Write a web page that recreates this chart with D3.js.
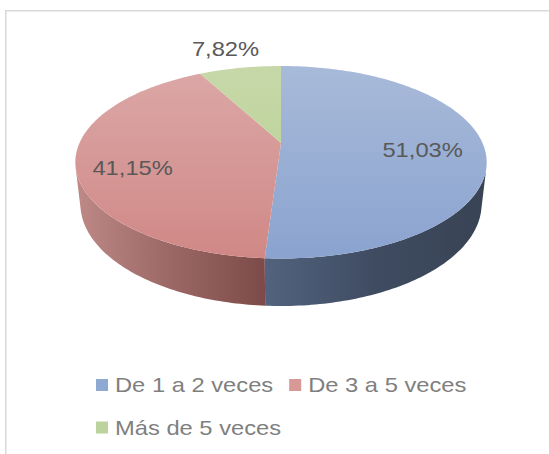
<!DOCTYPE html>
<html>
<head>
<meta charset="utf-8">
<script src="https://cdn.jsdelivr.net/npm/d3@7/dist/d3.min.js"></script>
<style>
  html, body { margin: 0; padding: 0; background: #fff; }
  svg { display: block; font-family: "Liberation Sans", Arial, sans-serif; }
</style>
</head>
<body>
<div id="chart"></div>
<script>
// data
var categories = ['De 1 a 2 veces', 'De 3 a 5 veces', 'Más de 5 veces'];
var values = [51.03, 41.15, 7.82];

// colours: top face (light, dark) and side wall (left, mid, right)
var topColors = [['#a8bad9', '#8aa3cf'], ['#dba8a7', '#d08886'], ['#c6d8a8', '#b6cf91']];
var wallColors = [['#52637f', '#3f4b61', '#384354'], ['#be8986', '#9b6865', '#7c4a48'], ['#9aae7c', '#839a64', '#6f8452']];
var legendColors = ['#8faad2', '#d79896', '#bcd39d'];

var width = 549, height = 454;

// 3D projection of the pie (fitted to the picture)
var cx = 281, cy = 143,
    R = 0.225, D = 1, f = 895.6,
    tilt = Math.asin(0.4586),
    depth = 0.0527,
    cosA = Math.cos(tilt), sinA = Math.sin(tilt);

function proj(phi, r, z) {
  var x = r * Math.sin(phi), y = r * Math.cos(phi);
  var v = z * cosA + y * sinA;
  var d = D + y * cosA - z * sinA;
  return [cx + f * x / d, cy - f * v / d];
}

var locale = d3.formatLocale({ decimal: ',', thousands: '.', grouping: [3], currency: ['', '€'] });
var fmt = locale.format('.2f');

var svg = d3.select('#chart').append('svg')
  .attr('width', width)
  .attr('height', height);

var defs = svg.append('defs');

// chart frame (only top and left edges are inside the picture)
svg.append('rect')
  .attr('x', 5.75).attr('y', 10.75)
  .attr('width', 700).attr('height', 600)
  .attr('fill', 'none')
  .attr('stroke', '#d9d9d9')
  .attr('stroke-width', 1.5);

var arcs = d3.pie().sort(null).value(function (d) { return d; })(values);

// visible part of the outer wall
var visLimit = Math.acos(-R / (D * cosA));
var visLo = visLimit, visHi = 2 * Math.PI - visLimit;

var line = d3.line();
var steps = 120;

function sample(a0, a1) {
  var n = Math.max(2, Math.ceil((a1 - a0) / (2 * Math.PI) * steps * 3));
  return d3.range(n + 1).map(function (i) { return a0 + (a1 - a0) * i / n; });
}

var walls = svg.append('g').attr('class', 'walls');
var tops = svg.append('g').attr('class', 'tops');

arcs.forEach(function (a, i) {
  var a0 = Math.max(a.startAngle, visLo), a1 = Math.min(a.endAngle, visHi);
  if (a0 < a1) {
    var angles = sample(a0, a1);
    var upper = angles.map(function (t) { return proj(t, R, 0); });
    var lower = angles.map(function (t) { return proj(t, R, -depth); }).reverse();
    var pts = upper.concat(lower);
    var xs = d3.extent(pts, function (p) { return p[0]; });
    var gid = 'wall' + i;
    var g = defs.append('linearGradient').attr('id', gid)
      .attr('gradientUnits', 'userSpaceOnUse')
      .attr('x1', xs[0]).attr('x2', xs[1]).attr('y1', 0).attr('y2', 0);
    g.append('stop').attr('offset', 0).attr('stop-color', wallColors[i][0]);
    g.append('stop').attr('offset', 0.5).attr('stop-color', wallColors[i][1]);
    g.append('stop').attr('offset', 1).attr('stop-color', wallColors[i][2]);
    walls.append('path')
      .attr('d', line(pts) + 'Z')
      .attr('fill', 'url(#' + gid + ')');
  }

  var tid = 'top' + i;
  var tg = defs.append('linearGradient').attr('id', tid)
    .attr('gradientUnits', 'userSpaceOnUse')
    .attr('x1', 0).attr('x2', 0)
    .attr('y1', proj(0, R, 0)[1]).attr('y2', proj(Math.PI, R, 0)[1]);
  tg.append('stop').attr('offset', 0).attr('stop-color', topColors[i][0]);
  tg.append('stop').attr('offset', 1).attr('stop-color', topColors[i][1]);

  var rim = sample(a.startAngle, a.endAngle).map(function (t) { return proj(t, R, 0); });
  tops.append('path')
    .attr('d', line([[cx, cy]].concat(rim)) + 'Z')
    .attr('fill', 'url(#' + tid + ')');
});

// data labels (best-fit placement)
var labelRadius = [0.70, 0.73, 1.45];
var labelDy = [4, 10, 7];
var textScale = 1.13;
var labels = svg.append('g').attr('class', 'labels');
arcs.forEach(function (a, i) {
  var mid = (a.startAngle + a.endAngle) / 2;
  var p = proj(mid, R * labelRadius[i], 0);
  labels.append('text')
    .attr('transform', 'translate(' + [p[0], p[1] + labelDy[i] + 7.5] + ') scale(' + textScale + ',1)')
    .attr('text-anchor', 'middle')
    .attr('font-size', 21)
    .attr('fill', '#595959')
    .text(fmt(values[i]) + '%');
});

// legend, laid out in rows
var legend = svg.append('g').attr('class', 'legend');
var lx = 96, ly = 392, rowH = 42.5, maxRight = 480, gap = 16;
var x = lx, y = ly;
categories.forEach(function (c, i) {
  var item = legend.append('g');
  item.append('rect')
    .attr('width', 12).attr('height', 12)
    .attr('y', -13)
    .attr('fill', legendColors[i]);
  var t = item.append('text')
    .attr('transform', 'translate(19,0) scale(' + textScale + ',1)')
    .attr('font-size', 21)
    .attr('fill', '#7f7f7f')
    .text(c);
  var w = 19 + t.node().getComputedTextLength() * textScale;
  if (x > lx && x + w > maxRight) {
    x = lx;
    y += rowH;
  }
  item.attr('transform', 'translate(' + [x, y] + ')');
  x += w + gap;
});
</script>
</body>
</html>
